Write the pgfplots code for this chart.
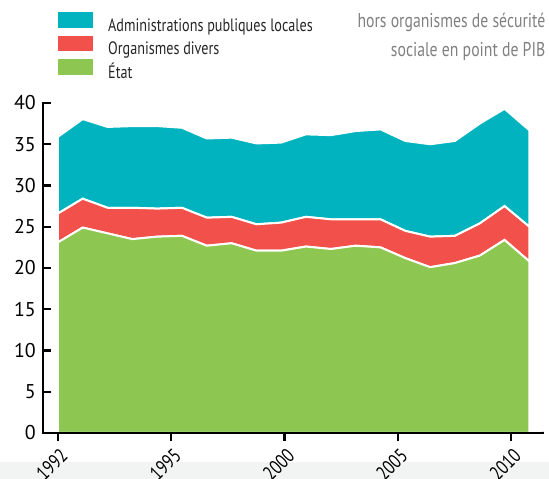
\documentclass[border=0pt]{standalone}
\usepackage{fontspec}
\setmainfont{PT Sans}
\newfontfamily\cond{PT Sans}[FakeStretch=0.79]
\usepackage{pgfplots}
\pgfplotsset{compat=1.18}
\usepackage{pgfplotstable}
\definecolor{apul}{RGB}{0,179,190}
\definecolor{odac}{RGB}{242,80,74}
\definecolor{etat}{RGB}{141,198,81}
\definecolor{note}{RGB}{128,128,128}
\definecolor{band}{RGB}{242,243,243}

% layers in points of GDP: Etat, organismes divers, APUL (stacked)
\pgfplotstableread{
i  etat  odac  apul
0  23.1  3.5   9.3
1  24.9  3.5   9.65
2  24.2  3.1   9.8
3  23.5  3.8   9.9
4  23.8  3.4   10.0
5  23.9  3.4   9.7
6  22.7  3.4   9.6
7  23.0  3.2   9.6
8  22.1  3.2   9.8
9  22.1  3.4   9.7
10 22.6  3.6   10.0
11 22.3  3.6   10.2
12 22.7  3.2   10.7
13 22.5  3.4   10.9
14 21.2  3.3   10.9
15 20.1  3.7   11.2
16 20.6  3.3   11.5
17 21.5  3.9   12.1
18 23.4  4.1   11.8
19 20.8  4.2   11.7
}\data

\begin{document}
\begin{tikzpicture}
\path[use as bounding box] (0,0) rectangle (549bp,479bp);
\fill[band] (0,0) rectangle (549bp,17bp);
\begin{axis}[
  at={(43bp,46bp)}, anchor=south west,
  scale only axis, width=500bp, height=330bp,
  xmin=-0.6, xmax=19.55, ymin=0, ymax=40,
  axis x line=bottom, axis y line=left,
  axis line style={-, line width=2.4bp, line cap=rect},
  axis on top,
  stack plots=y,
  tick align=inside, major tick length=8bp,
  tick style={black, line width=2.4bp},
  every major x tick/.append style={yshift=-8bp},
  ytick={0,5,...,40},
  xtick={0,4.57,9.14,13.70,18.27},
  xticklabels={1992,1995,2000,2005,2010},
  /pgf/number format/assume math mode=true,
  yticklabel style={font=\fontsize{20}{20}\selectfont, inner sep=0pt, xshift=-7bp},
  xticklabel style={font=\cond\fontsize{20}{20}\selectfont, xshift=1bp, yshift=-14bp, rotate=45, anchor=north east, inner sep=0pt},
  legend style={at={(axis description cs:0.03,1.2758)}, anchor=north west, draw=none, fill=none,
    inner sep=0pt, row sep=0.5bp, font=\cond\fontsize{18}{18}\selectfont, text=black!85,
    nodes={inner sep=0pt, text height=12bp, text depth=4bp},
    /tikz/every odd column/.append style={column sep=15bp}},
  legend cell align=left,
  reverse legend,
  legend image code/.code={\path[#1, draw=none] (0bp,-0.6bp) rectangle (35bp,15bp);},
]
\addplot[fill=etat, draw=white, line width=2bp] table[x=i, y=etat]{\data} \closedcycle;
\addlegendentry{État}
\addplot[fill=odac, draw=white, line width=2bp] table[x=i, y=odac]{\data} \closedcycle;
\addlegendentry{Organismes divers}
\addplot[fill=apul, draw=white, line width=2bp] table[x=i, y=apul]{\data} \closedcycle;
\addlegendentry{Administrations publiques locales}
\draw[line width=2.4bp] (rel axis cs:1,0) -- ++(0,10bp);
\end{axis}
\node[anchor=base east, text=note, font=\cond\fontsize{20}{20}\selectfont, inner sep=0pt] at (545.5bp,451.7bp) {hors organismes de sécurité};
\node[anchor=base east, text=note, font=\cond\fontsize{20}{20}\selectfont, inner sep=0pt] at (545.5bp,422.3bp) {sociale en point de PIB};
\end{tikzpicture}
\end{document}
